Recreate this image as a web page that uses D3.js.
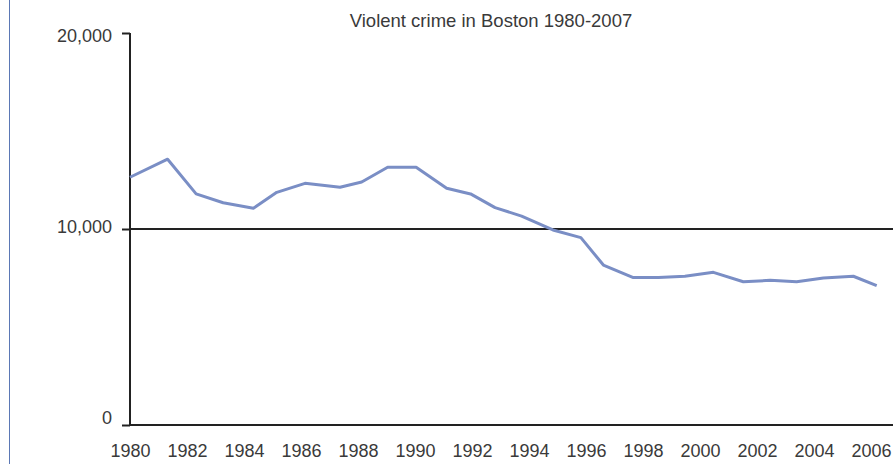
<!DOCTYPE html>
<html>
<head>
<meta charset="utf-8">
<script src="https://cdn.jsdelivr.net/npm/d3@7"></script>
<style>
  body { margin: 0; background: #fff; }
  text { font-family: "Liberation Sans", Arial, sans-serif; fill: #3a3a3a; }
</style>
</head>
<body>
<div id="chart"></div>
<script>
//violent crime line chart

//data (year position, number of crimes)
var years = [1980.0, 1981.32, 1982.32, 1983.27, 1984.33, 1985.15, 1986.14, 1987.37, 1988.13, 1989.04,
  1990.04, 1991.11, 1991.95, 1992.81, 1993.74, 1994.84, 1995.82, 1996.61, 1997.66, 1998.54,
  1999.47, 2000.47, 2001.52, 2002.46, 2003.39, 2004.33, 2005.38, 2006.2];
var crimes = [12640, 13560, 11790, 11340, 11060, 11870, 12330, 12130, 12400, 13150,
  13150, 12080, 11790, 11090, 10660, 9950, 9560, 8160, 7520, 7520,
  7590, 7790, 7310, 7380, 7310, 7500, 7590, 7110];
var xTicks = [1980, 1982, 1984, 1986, 1988, 1990, 1992, 1994, 1996, 1998, 2000, 2002, 2004, 2006];
var yTicks = [0, 10000, 20000];
var title = "Violent crime in Boston 1980-2007";

var width = 894, height = 464;

var series = years.map(function(d, i) { return {year: d, value: crimes[i]}; });

var svg = d3.select("#chart").append("svg")
  .attr("width", width)
  .attr("height", height);

//scales
var x = d3.scaleLinear()
  .domain([1980, 2006])
  .range([130, 871]);

var y = d3.scaleLinear()
  .domain([0, 20000])
  .range([425, 33]);

//frame line on the left
svg.append("line")
  .attr("x1", 9.5).attr("x2", 9.5)
  .attr("y1", 0).attr("y2", height)
  .style("stroke", "#5b78b5")
  .style("stroke-width", 1);

//title
svg.append("text")
  .attr("x", 491)
  .attr("y", 27)
  .attr("text-anchor", "middle")
  .style("font-size", "18.5px")
  .text(title);

//y axis
var yAxis = svg.append("g")
  .attr("transform", "translate(130,0)")
  .call(d3.axisLeft(y)
    .tickValues(yTicks)
    .tickSize(8)
    .tickPadding(10)
    .tickFormat(d3.format(",")));

yAxis.select(".domain")
  .attr("d", "M0," + y(0) + "V" + y(20000))
  .style("stroke", "#222")
  .style("stroke-width", 2);

yAxis.selectAll(".tick line")
  .style("stroke", "#222")
  .style("stroke-width", 2);

yAxis.selectAll(".tick text")
  .attr("dy", function(d) { return (-8 + d * 10 / 20000 + 6) + "px"; })
  .style("font-size", "18px")
  .style("fill", "#3a3a3a");

//gridline at 10,000 and baseline
svg.selectAll(".hline")
  .data([0, 10000])
  .enter().append("line")
  .attr("class", "hline")
  .attr("x1", 130)
  .attr("x2", width - 1)
  .attr("y1", function(d) { return y(d); })
  .attr("y2", function(d) { return y(d); })
  .style("stroke", "#222")
  .style("stroke-width", 2);

//x axis labels
var xAxis = svg.append("g")
  .attr("transform", "translate(0," + y(0) + ")")
  .call(d3.axisBottom(x)
    .tickValues(xTicks)
    .tickSize(0)
    .tickPadding(32)
    .tickFormat(d3.format("d")));

xAxis.select(".domain").remove();

xAxis.selectAll(".tick text")
  .attr("dy", "0")
  .style("font-size", "18px")
  .style("fill", "#3a3a3a");

//the line
svg.append("path")
  .datum(series)
  .attr("fill", "none")
  .style("stroke", "#7a8ec5")
  .style("stroke-width", 3)
  .style("stroke-linejoin", "round")
  .attr("d", d3.line()
    .x(function(d) { return x(d.year); })
    .y(function(d) { return y(d.value); }));
</script>
</body>
</html>
